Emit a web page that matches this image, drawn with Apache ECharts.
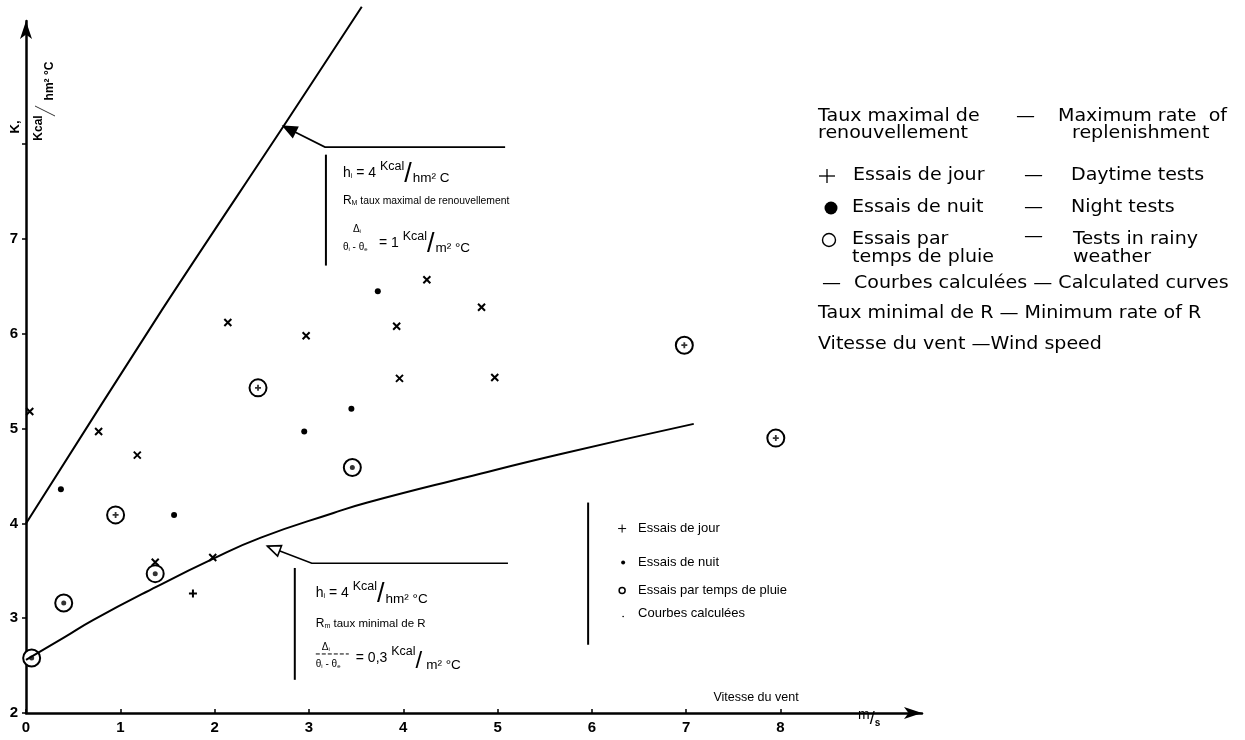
<!DOCTYPE html>
<html>
<head>
<meta charset="utf-8">
<script src="https://cdn.jsdelivr.net/npm/echarts@6/dist/echarts.min.js"></script>
<style>
  html, body { margin: 0; padding: 0; background: #fff; }
  #chart { width: 1245px; height: 740px; }
</style>
</head>
<body>
<div id="chart"></div>
<script>
// Tick labels shown on each axis
const xTickLabels = ['0', '1', '2', '3', '4', '5', '6', '7', '8'];
const yTickLabels = ['2', '3', '4', '5', '6', '7'];

// Daytime tests (x = wind speed m/s, y = K)
const dayX = [0.04, 0.77, 1.18, 1.37, 1.98, 2.14, 2.97, 3.93, 3.96, 4.25, 4.83, 4.97];
const dayY = [5.18, 4.97, 4.72, 3.59, 3.64, 6.12, 5.98, 6.08, 5.53, 6.57, 6.28, 5.54];
const dayPlusX = [1.77];
const dayPlusY = [3.26];

// Night tests
const nightX = [0.37, 1.57, 2.95, 3.45, 3.73];
const nightY = [4.36, 4.09, 4.97, 5.21, 6.45];

// Tests in rainy weather (circled), with the inner mark of each
const rainX = [0.06, 0.40, 0.95, 1.37, 2.46, 3.46, 6.98, 7.95];
const rainY = [2.58, 3.16, 4.09, 3.47, 5.43, 4.59, 5.88, 4.90];
const rainInner = ['dot', 'dot', 'plus', 'dot', 'plus', 'dot', 'plus', 'plus'];

// Calculated curves: maximum rate of replenishment and minimum rate of R
const maxCurveX = [0, 1.44, 2.73, 3.56];
const maxCurveY = [4.0, 6.25, 8.19, 9.45];
const minCurveX = [0, 0.41, 0.71, 1.38, 1.97, 2.49, 3.26, 3.62, 4.68, 5.66, 7.08];
const minCurveY = [2.56, 2.80, 2.98, 3.33, 3.62, 3.85, 4.11, 4.22, 4.49, 4.73, 5.05];

const zip = (xs, ys) => xs.map((x, i) => [x, ys[i]]);

const SANS = '"Liberation Sans", Arial, sans-serif';
const HUM = '"DejaVu Sans", sans-serif';
const CROSS = 'path://M0,0L10,10M10,0L0,10';
const PLUS = 'path://M5,0L5,10M0,5L10,5';

const chart = echarts.init(document.getElementById('chart'), null, { renderer: 'canvas' });

const option = {
  animation: false,
  backgroundColor: '#fff',
  grid: { left: 26, right: 323, top: 21, bottom: 27 },
  xAxis: {
    type: 'value', min: 0, max: 9.5, interval: 1,
    axisLine: { lineStyle: { color: '#000', width: 2.5 }, symbol: ['none', 'arrow'], symbolSize: [9, 18] },
    axisTick: {
      inside: true, length: 4, lineStyle: { color: '#000', width: 1.5 },
      customValues: [0, 1, 2, 3, 4, 5, 6, 7, 8]
    },
    axisLabel: {
      margin: 7, color: '#000', fontSize: 15, fontWeight: 'bold', fontFamily: SANS,
      formatter: v => (xTickLabels.includes(String(v)) ? String(v) : '')
    },
    splitLine: { show: false }
  },
  yAxis: {
    type: 'value', min: 2, max: 9.3, interval: 1,
    axisLine: { lineStyle: { color: '#000', width: 2.5 }, symbol: ['none', 'arrow'], symbolSize: [9, 18] },
    axisTick: {
      inside: false, length: 4, lineStyle: { color: '#000', width: 1.5 },
      customValues: [2, 3, 4, 5, 6, 7, 8]
    },
    axisLabel: {
      margin: 8, color: '#000', fontSize: 15, fontWeight: 'bold', fontFamily: SANS,
      formatter: v => (yTickLabels.includes(String(v)) ? String(v) : '')
    },
    splitLine: { show: false }
  },
  series: [
    {
      name: 'Taux maximal de renouvellement', type: 'line', data: zip(maxCurveX, maxCurveY),
      showSymbol: false, clip: false, smooth: 0.3,
      lineStyle: { color: '#000', width: 2 }
    },
    {
      name: 'Taux minimal de R', type: 'line', data: zip(minCurveX, minCurveY),
      showSymbol: false, smooth: true,
      lineStyle: { color: '#000', width: 2 }
    },
    {
      name: 'Essais de jour', type: 'scatter', data: zip(dayX, dayY),
      symbol: CROSS, symbolSize: 7,
      itemStyle: { color: 'rgba(0,0,0,0)', borderColor: '#000', borderWidth: 2, opacity: 1 }
    },
    {
      name: 'Essais de jour +', type: 'scatter', data: zip(dayPlusX, dayPlusY),
      symbol: PLUS, symbolSize: 8,
      itemStyle: { color: 'rgba(0,0,0,0)', borderColor: '#000', borderWidth: 2, opacity: 1 }
    },
    {
      name: 'Essais de nuit', type: 'scatter', data: zip(nightX, nightY),
      symbol: 'circle', symbolSize: 6,
      itemStyle: { color: '#000', opacity: 1 }
    },
    {
      name: 'Essais par temps de pluie', type: 'scatter', data: zip(rainX, rainY),
      symbol: 'emptyCircle', symbolSize: 17,
      itemStyle: { color: '#000', borderColor: '#000', borderWidth: 2, opacity: 1 }
    },
    {
      name: 'pluie centre', type: 'scatter',
      data: zip(rainX, rainY).map((p, i) => ({
        value: p,
        symbol: rainInner[i] === 'plus' ? PLUS : 'circle',
        symbolSize: rainInner[i] === 'plus' ? 6 : 5,
        itemStyle: rainInner[i] === 'plus'
          ? { color: 'rgba(0,0,0,0)', borderColor: '#000', borderWidth: 1.8 }
          : { color: '#000' }
      })),
      z: 3
    }
  ]
};

chart.setOption(option);

// ---- annotations, axis titles and key ----
const mctx = document.createElement('canvas').getContext('2d');
function tw(text, font) { mctx.font = font; return mctx.measureText(text).width; }
const P = (x, y) => chart.convertToPixel({ gridIndex: 0 }, [x, y]);

const g = [];
function txt(x, y, text, size, opts = {}) {
  const font = `${opts.style || 'normal'} ${opts.weight || 'normal'} ${size}px ${opts.family || SANS}`;
  const sx = opts.scaleX || 1;
  g.push({
    type: 'text', x, y, rotation: opts.rotation || 0, scaleX: sx, silent: true, z: 100,
    style: {
      text, font, fill: '#000',
      align: opts.align || 'left', verticalAlign: 'middle',
      textAlign: opts.align || 'left', textVerticalAlign: 'middle'
    }
  });
  return tw(text, font) * sx;
}
// a run of fragments laid out left to right, each with its own size and vertical shift
function run(x, y, frags, family) {
  let cx = x;
  frags.forEach(f => {
    const w = txt(cx, y + (f.dy || 0), f.t, f.s, { weight: f.w, family: f.f || family, scaleX: f.sx });
    cx += w + (f.gap || 0);
  });
  return cx;
}
function line(x1, y1, x2, y2, width = 1.5, dash) {
  g.push({
    type: 'line', silent: true, z: 100,
    shape: { x1, y1, x2, y2 },
    style: { stroke: '#000', lineWidth: width, lineDash: dash || null }
  });
}
function poly(points, width = 1.5) {
  g.push({ type: 'polyline', silent: true, z: 100, shape: { points }, style: { stroke: '#000', lineWidth: width, fill: null } });
}
function arrowHead(tip, from, filled) {
  const dx = tip[0] - from[0], dy = tip[1] - from[1];
  const len = Math.hypot(dx, dy), ux = dx / len, uy = dy / len;
  const L = 13, W = 5.5;
  const bx = tip[0] - ux * L, by = tip[1] - uy * L;
  g.push({
    type: 'polygon', silent: true, z: 101,
    shape: { points: [tip, [bx - uy * W, by + ux * W], [bx + uy * W, by - ux * W]] },
    style: { fill: filled ? '#000' : '#fff', stroke: '#000', lineWidth: 1.6 }
  });
}

// leader arrows (anchored in data units)
const upTip = P(2.73, 8.19), upKnee = P(3.17, 7.97), upEnd = P(5.08, 7.97);
poly([upEnd, upKnee, upTip], 1.6);
arrowHead(upTip, upKnee, true);
const loTip = P(2.56, 3.76), loKnee = P(3.03, 3.58), loEnd = P(5.11, 3.58);
poly([loEnd, loKnee, loTip], 1.6);
arrowHead(loTip, loKnee, false);

// upper note: maximum rate of replenishment
const uTop = P(3.18, 7.89), uBot = P(3.18, 6.72);
line(uTop[0], uTop[1], uBot[0], uBot[1], 2);
const ux0 = uTop[0] + 17, ut = uTop[1];
run(ux0, ut + 18, [
  { t: 'h', s: 14 }, { t: 'i', s: 7, dy: 3 }, { t: ' = 4 ', s: 14 },
  { t: 'Kcal', s: 12.5, dy: -6 }, { t: '/', s: 27, dy: 2, gap: 1 }, { t: 'hm² C', s: 13.5, dy: 6 }
]);
run(ux0, ut + 46, [
  { t: 'R', s: 12 }, { t: 'M', s: 7, dy: 2 }, { t: ' taux maximal de renouvellement', s: 11.5, sx: 0.9 }
]);
run(ux0 + 10, ut + 75, [{ t: 'Δ', s: 10 }, { t: 'i', s: 6, dy: 2 }]);
run(ux0, ut + 93, [{ t: 'θ', s: 10 }, { t: 'i', s: 6, dy: 2 }, { t: ' - ', s: 10 }, { t: 'θ', s: 10 }, { t: 'e', s: 6, dy: 2 }]);
run(ux0 + 36, ut + 88, [
  { t: '= 1 ', s: 14 }, { t: 'Kcal', s: 12.5, dy: -6 }, { t: '/', s: 27, dy: 2, gap: 1 }, { t: 'm² °C', s: 13.5, dy: 6 }
]);

// lower note: minimum rate of R
const lTop = P(2.85, 3.53), lBot = P(2.85, 2.35);
line(lTop[0], lTop[1], lBot[0], lBot[1], 2);
const lx0 = lTop[0] + 21, lt = lTop[1];
run(lx0, lt + 25, [
  { t: 'h', s: 14 }, { t: 'i', s: 7, dy: 3 }, { t: ' = 4 ', s: 14 },
  { t: 'Kcal', s: 12.5, dy: -6 }, { t: '/', s: 27, dy: 2, gap: 1 }, { t: 'hm² °C', s: 13.5, dy: 6 }
]);
run(lx0, lt + 56, [
  { t: 'R', s: 12 }, { t: 'm', s: 7, dy: 2 }, { t: ' taux minimal de R', s: 11.5 }
]);
run(lx0 + 6, lt + 79, [{ t: 'Δ', s: 10 }, { t: 'i', s: 6, dy: 2 }]);
line(lx0, lt + 86, lx0 + 33, lt + 86, 1, [4, 2]);
run(lx0, lt + 96, [{ t: 'θ', s: 10 }, { t: 'i', s: 6, dy: 2 }, { t: ' - ', s: 10 }, { t: 'θ', s: 10 }, { t: 'e', s: 6, dy: 2 }]);
run(lx0 + 40, lt + 90, [
  { t: '= 0,3 ', s: 14 }, { t: 'Kcal', s: 12.5, dy: -6 }, { t: '/', s: 24, dy: 3, gap: 4 }, { t: 'm² °C', s: 13.5, dy: 7 }
]);

// key inside the plot
const kTop = P(5.96, 4.22), kBot = P(5.96, 2.72);
line(kTop[0], kTop[1], kBot[0], kBot[1], 2);
const kx = kTop[0] + 34, kt = kTop[1];
const krow = [kt + 26, kt + 60, kt + 88, kt + 111];
line(kx - 4, krow[0], kx + 4, krow[0], 1); line(kx, krow[0] - 4, kx, krow[0] + 4, 1);
g.push({ type: 'circle', silent: true, z: 100, shape: { cx: kx + 1, cy: krow[1], r: 2 }, style: { fill: '#000' } });
g.push({ type: 'circle', silent: true, z: 100, shape: { cx: kx, cy: krow[2], r: 3 }, style: { fill: null, stroke: '#000', lineWidth: 1.5 } });
g.push({ type: 'circle', silent: true, z: 100, shape: { cx: kx + 1, cy: krow[3] + 3, r: 0.8 }, style: { fill: '#000' } });
txt(kx + 16, krow[0], 'Essais de jour', 13);
txt(kx + 16, krow[1], 'Essais de nuit', 13);
txt(kx + 16, krow[2], 'Essais par temps de pluie', 13);
txt(kx + 16, krow[3], 'Courbes calculées', 13);

// axis titles
txt(15, 127, 'K,', 13, { weight: 'bold', rotation: Math.PI / 2, align: 'center' });
txt(39, 128, 'Kcal', 12, { weight: 'bold', rotation: Math.PI / 2, align: 'center' });
line(35, 106, 55, 116, 0.8);
txt(50, 81, 'hm² °C', 12, { weight: 'bold', rotation: Math.PI / 2, align: 'center' });
txt(756, 698, 'Vitesse du vent', 12.5, { align: 'center' });
run(858, 718, [{ t: 'm', s: 14, dy: -3 }, { t: '/', s: 18, dy: 1 }, { t: 's', s: 10, dy: 5, w: 'bold' }]);

// bilingual key on the right
const FS = 17, SX = 1.12;
const R = (x, y, t) => txt(x, y, t, FS, { family: HUM, scaleX: SX });
R(818, 117, 'Taux maximal de'); R(1016, 117, '—'); R(1058, 117, 'Maximum rate  of');
R(818, 134, 'renouvellement'); R(1072, 134, 'replenishment');
line(819, 176, 835, 176, 1.3); line(827, 169, 827, 183, 1.3);
R(853, 176, 'Essais de jour'); R(1024, 176, '—'); R(1071, 176, 'Daytime tests');
g.push({ type: 'circle', silent: true, z: 100, shape: { cx: 831, cy: 208, r: 6.5 }, style: { fill: '#000' } });
R(852, 208, 'Essais de nuit'); R(1024, 208, '—'); R(1071, 208, 'Night tests');
g.push({ type: 'circle', silent: true, z: 100, shape: { cx: 829, cy: 240, r: 6.5 }, style: { fill: null, stroke: '#000', lineWidth: 1.4 } });
R(852, 240, 'Essais par'); R(1024, 237, '—'); R(1073, 240, 'Tests in rainy');
R(852, 258, 'temps de pluie'); R(1073, 258, 'weather');
R(822, 284, '—'); R(854, 284, 'Courbes calculées — Calculated curves');
R(818, 314, 'Taux minimal de R — Minimum rate of R');
R(818, 345, 'Vitesse du vent —Wind speed');

chart.setOption({ graphic: g });
</script>
</body>
</html>
